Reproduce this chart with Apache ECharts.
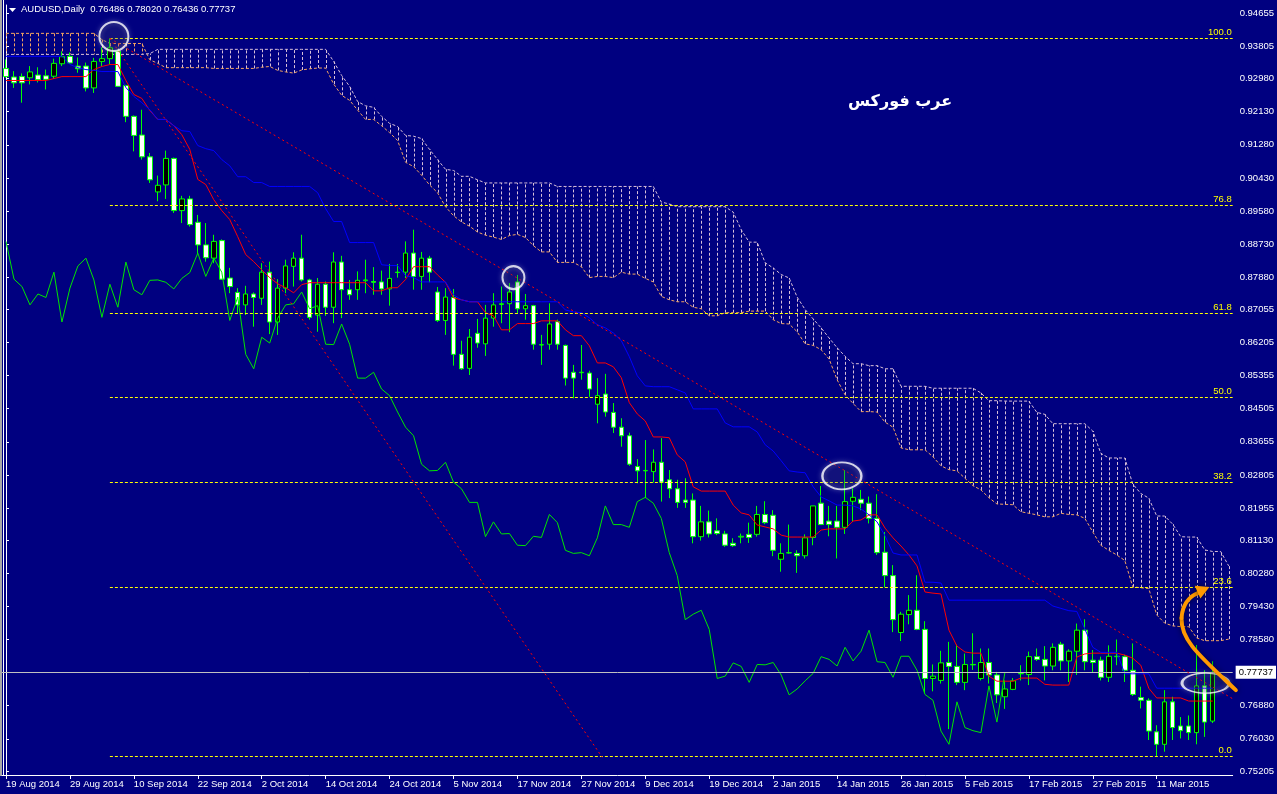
<!DOCTYPE html>
<html><head><meta charset="utf-8">
<script src="https://cdn.jsdelivr.net/npm/echarts@6/dist/echarts.min.js"></script>
<style>html,body{margin:0;padding:0;background:#000080;overflow:hidden}#c{width:1277px;height:794px}</style>
</head><body><div id="c"></div>
<script>
// ---------- categories (daily bars, incl. 2 future bars for the shifted cloud) ----------
const dates = ['19 Aug 2014','20 Aug 2014','21 Aug 2014','22 Aug 2014','25 Aug 2014','26 Aug 2014','27 Aug 2014','28 Aug 2014','29 Aug 2014',
'1 Sep 2014','2 Sep 2014','3 Sep 2014','4 Sep 2014','5 Sep 2014','8 Sep 2014','9 Sep 2014','10 Sep 2014','11 Sep 2014','12 Sep 2014','15 Sep 2014','16 Sep 2014','17 Sep 2014','18 Sep 2014','19 Sep 2014','22 Sep 2014','23 Sep 2014','24 Sep 2014','25 Sep 2014','26 Sep 2014','29 Sep 2014','30 Sep 2014',
'1 Oct 2014','2 Oct 2014','3 Oct 2014','6 Oct 2014','7 Oct 2014','8 Oct 2014','9 Oct 2014','10 Oct 2014','13 Oct 2014','14 Oct 2014','15 Oct 2014','16 Oct 2014','17 Oct 2014','20 Oct 2014','21 Oct 2014','22 Oct 2014','23 Oct 2014','24 Oct 2014','27 Oct 2014','28 Oct 2014','29 Oct 2014','30 Oct 2014','31 Oct 2014',
'3 Nov 2014','4 Nov 2014','5 Nov 2014','6 Nov 2014','7 Nov 2014','10 Nov 2014','11 Nov 2014','12 Nov 2014','13 Nov 2014','14 Nov 2014','17 Nov 2014','18 Nov 2014','19 Nov 2014','20 Nov 2014','21 Nov 2014','24 Nov 2014','25 Nov 2014','26 Nov 2014','27 Nov 2014','28 Nov 2014',
'1 Dec 2014','2 Dec 2014','3 Dec 2014','4 Dec 2014','5 Dec 2014','8 Dec 2014','9 Dec 2014','10 Dec 2014','11 Dec 2014','12 Dec 2014','15 Dec 2014','16 Dec 2014','17 Dec 2014','18 Dec 2014','19 Dec 2014','22 Dec 2014','23 Dec 2014','24 Dec 2014','26 Dec 2014','29 Dec 2014','30 Dec 2014','31 Dec 2014',
'2 Jan 2015','5 Jan 2015','6 Jan 2015','7 Jan 2015','8 Jan 2015','9 Jan 2015','12 Jan 2015','13 Jan 2015','14 Jan 2015','15 Jan 2015','16 Jan 2015','19 Jan 2015','20 Jan 2015','21 Jan 2015','22 Jan 2015','23 Jan 2015','26 Jan 2015','27 Jan 2015','28 Jan 2015','29 Jan 2015','30 Jan 2015',
'2 Feb 2015','3 Feb 2015','4 Feb 2015','5 Feb 2015','6 Feb 2015','9 Feb 2015','10 Feb 2015','11 Feb 2015','12 Feb 2015','13 Feb 2015','16 Feb 2015','17 Feb 2015','18 Feb 2015','19 Feb 2015','20 Feb 2015','23 Feb 2015','24 Feb 2015','25 Feb 2015','26 Feb 2015','27 Feb 2015',
'2 Mar 2015','3 Mar 2015','4 Mar 2015','5 Mar 2015','6 Mar 2015','9 Mar 2015','10 Mar 2015','11 Mar 2015','12 Mar 2015','13 Mar 2015','16 Mar 2015','17 Mar 2015','18 Mar 2015','19 Mar 2015','20 Mar 2015','23 Mar 2015','24 Mar 2015'];

// ---------- candles ----------
const opens = [0.9324,0.9302,0.9303,0.9300,0.9307,0.9305,0.9304,0.9336,0.9355,0.9330,
0.9330,0.9274,0.9342,0.9349,0.9368,0.9280,0.9201,0.9153,0.9097,0.9007,
0.9025,0.9093,0.8959,0.8989,0.8929,0.8871,0.8837,0.8882,0.8786,0.8749,
0.8717,0.8745,0.8734,0.8801,0.8673,0.8760,0.8816,0.8837,0.8781,0.8691,
0.8770,0.8711,0.8827,0.8756,0.8756,0.8779,0.8777,0.8776,0.8758,0.8801,
0.8801,0.8850,0.8790,0.8837,0.8750,0.8677,0.8736,0.8590,0.8554,0.8644,
0.8617,0.8683,0.8718,0.8720,0.8776,0.8707,0.8715,0.8614,0.8616,0.8674,
0.8613,0.8544,0.8543,0.8542,0.8462,0.8488,0.8441,0.8403,0.8381,0.8302,
0.8291,0.8289,0.8313,0.8268,0.8245,0.8216,0.8216,0.8122,0.8160,0.8137,
0.8129,0.8105,0.8121,0.8128,0.8128,0.8179,0.8177,0.8064,0.8080,0.8079,
0.8073,0.8120,0.8208,0.8162,0.8162,0.8146,0.8213,0.8218,0.8208,0.8169,
0.8082,0.8022,0.7876,0.7922,0.7933,0.7884,0.7758,0.7753,0.7799,0.7789,
0.7748,0.7794,0.7758,0.7799,0.7767,0.7711,0.7730,0.7770,0.7768,0.7814,
0.7807,0.7790,0.7846,0.7803,0.7828,0.7882,0.7805,0.7805,0.7761,0.7814,
0.7814,0.7779,0.7709,0.7702,0.7621,0.7589,0.7698,0.7636,0.7636,0.7619,
0.7739,0.76486];
const highs = [0.9347,0.9317,0.9311,0.9330,0.9327,0.9321,0.9349,0.9368,0.9365,0.9352,
0.9339,0.9351,0.9378,0.9401,0.9372,0.9282,0.9203,0.9218,0.9107,0.9049,
0.9113,0.9095,0.8997,0.8997,0.8948,0.8927,0.8897,0.8885,0.8812,0.8760,
0.8766,0.8749,0.8824,0.8828,0.8783,0.8833,0.8852,0.8897,0.8784,0.8786,
0.8777,0.8852,0.8843,0.8781,0.8803,0.8833,0.8814,0.8805,0.8822,0.8822,
0.8880,0.8910,0.8853,0.8843,0.8763,0.8760,0.8758,0.8625,0.8655,0.8681,
0.8717,0.8747,0.8764,0.8773,0.8794,0.8745,0.8717,0.8640,0.8721,0.8679,
0.8615,0.8563,0.8614,0.8548,0.8529,0.8540,0.8465,0.8426,0.8389,0.8321,
0.8370,0.8346,0.8375,0.8293,0.8268,0.8272,0.8233,0.8201,0.8189,0.8169,
0.8137,0.8118,0.8130,0.8158,0.8201,0.8213,0.8190,0.8105,0.8153,0.8087,
0.8128,0.8201,0.8252,0.8201,0.8201,0.8293,0.8246,0.8242,0.8225,0.8231,
0.8134,0.8049,0.7929,0.7972,0.8023,0.7905,0.7794,0.7829,0.7852,0.7845,
0.7822,0.7874,0.7835,0.7835,0.7775,0.7753,0.7759,0.7792,0.7827,0.7835,
0.7841,0.7848,0.7852,0.7833,0.7899,0.7910,0.7831,0.7814,0.7843,0.7858,
0.7819,0.7848,0.7737,0.7707,0.7638,0.7728,0.7711,0.7659,0.7663,0.7844,
0.7779,0.78020];
const lows = [0.9300,0.9274,0.9236,0.9283,0.9288,0.9270,0.9297,0.9330,0.9336,0.9313,
0.9265,0.9261,0.9330,0.9334,0.9278,0.9186,0.9111,0.9090,0.9030,0.8983,
0.8989,0.8953,0.8927,0.8918,0.8847,0.8828,0.8824,0.8781,0.8747,0.8696,
0.8691,0.8661,0.8717,0.8642,0.8640,0.8747,0.8764,0.8777,0.8679,0.8648,
0.8689,0.8670,0.8683,0.8730,0.8730,0.8747,0.8743,0.8743,0.8715,0.8787,
0.8786,0.8756,0.8756,0.8775,0.8673,0.8640,0.8561,0.8550,0.8537,0.8607,
0.8586,0.8661,0.8670,0.8647,0.8696,0.8679,0.8602,0.8563,0.8602,0.8602,
0.8510,0.8477,0.8525,0.8481,0.8413,0.8430,0.8388,0.8353,0.8304,0.8259,
0.8221,0.8261,0.8212,0.8221,0.8196,0.8196,0.8105,0.8112,0.8120,0.8126,
0.8096,0.8096,0.8105,0.8106,0.8122,0.8154,0.8072,0.8032,0.8078,0.8029,
0.8066,0.8100,0.8152,0.8123,0.8066,0.8129,0.8160,0.8190,0.8156,0.8075,
0.7992,0.7877,0.7854,0.7897,0.7882,0.7720,0.7725,0.7745,0.7628,0.7741,
0.7728,0.7780,0.7753,0.7745,0.7695,0.7680,0.7728,0.7753,0.7741,0.7803,
0.7753,0.7779,0.7779,0.7749,0.7767,0.7779,0.7772,0.7753,0.7749,0.7792,
0.7749,0.7713,0.7681,0.7600,0.7557,0.7570,0.7600,0.7604,0.7600,0.7589,
0.7608,0.76436];
const closes = [0.9303,0.9287,0.9287,0.9315,0.9295,0.9296,0.9337,0.9354,0.9338,0.9323,
0.9274,0.9342,0.9349,0.9377,0.9278,0.9201,0.9152,0.9097,0.9038,0.9024,
0.9093,0.8959,0.8989,0.8923,0.8871,0.8838,0.8880,0.8783,0.8764,0.8717,
0.8745,0.8736,0.8801,0.8673,0.8760,0.8817,0.8837,0.8781,0.8685,0.8770,
0.8711,0.8827,0.8756,0.8743,0.8780,0.8781,0.8775,0.8758,0.8785,0.8800,
0.8850,0.8790,0.8837,0.8801,0.8677,0.8737,0.8590,0.8553,0.8634,0.8619,
0.8683,0.8717,0.8720,0.8750,0.8707,0.8715,0.8616,0.8615,0.8668,0.8616,
0.8529,0.8529,0.8544,0.8501,0.8484,0.8442,0.8403,0.8381,0.8308,0.8291,
0.8292,0.8313,0.8262,0.8245,0.8210,0.8210,0.8122,0.8160,0.8129,0.8130,
0.8100,0.8099,0.8123,0.8120,0.8179,0.8158,0.8087,0.8079,0.8081,0.8073,
0.8119,0.8201,0.8153,0.8153,0.8146,0.8212,0.8223,0.8208,0.8169,0.8081,
0.8022,0.7909,0.7923,0.7933,0.7884,0.7758,0.7764,0.7798,0.7789,0.7748,
0.7794,0.7793,0.7799,0.7767,0.7716,0.7731,0.7752,0.7771,0.7814,0.7807,
0.7790,0.7838,0.7803,0.7828,0.7882,0.7801,0.7799,0.7761,0.7815,0.7815,
0.7779,0.7717,0.7702,0.7623,0.7589,0.7698,0.7632,0.7624,0.7619,0.7739,
0.7646,0.77737];

// ---------- Ichimoku lines ----------
const tenkan = [0.9293,0.9293,0.9293,0.9293,0.9293,0.9293,0.9298,0.9303,0.9303,0.9303,
0.9303,0.9321,0.9329,0.9334,0.9334,0.9293,0.9257,0.9247,0.9216,0.9193,
0.9193,0.9177,0.9154,0.9116,0.9039,0.9026,0.8987,0.8959,0.8936,0.8892,
0.8846,0.8828,0.8807,0.8787,0.8771,0.8761,0.8748,0.8769,0.8774,0.8774,
0.8774,0.8774,0.8774,0.8774,0.8774,0.8774,0.8753,0.8753,0.8761,0.8761,
0.8782,0.8815,0.8815,0.8815,0.8794,0.8775,0.8735,0.8730,0.8725,0.8725,
0.8697,0.8689,0.8653,0.8653,0.8669,0.8669,0.8669,0.8676,0.8676,0.8676,
0.8653,0.8638,0.8638,0.8612,0.8568,0.8568,0.8558,0.8530,0.8466,0.8437,
0.8419,0.8378,0.8378,0.8376,0.8332,0.8314,0.8250,0.8239,0.8239,0.8239,
0.8239,0.8203,0.8183,0.8178,0.8152,0.8147,0.8142,0.8126,0.8121,0.8121,
0.8121,0.8121,0.8139,0.8142,0.8142,0.8142,0.8162,0.8165,0.8178,0.8178,
0.8144,0.8119,0.8098,0.8075,0.8047,0.7980,0.7977,0.7975,0.7882,0.7841,
0.7826,0.7823,0.7823,0.7764,0.7751,0.7751,0.7751,0.7759,0.7759,0.7759,
0.7743,0.7741,0.7741,0.7741,0.7813,0.7821,0.7823,0.7823,0.7823,0.7823,
0.7818,0.7810,0.7792,0.7733,0.7708,0.7708,0.7708,0.7708,0.7700,0.7700,
0.7700,0.7700];
const kijun = [0.9355,0.9355,0.9355,0.9355,0.9355,0.9355,0.9355,0.9355,0.9334,0.9326,
0.9321,0.9319,0.9316,0.9316,0.9316,0.9275,0.9252,0.9236,0.9218,0.9193,
0.9193,0.9177,0.9164,0.9162,0.9126,0.9118,0.9113,0.9090,0.9074,0.9046,
0.9046,0.9031,0.9031,0.9021,0.9021,0.9021,0.9021,0.9021,0.9021,0.9005,
0.8964,0.8931,0.8931,0.8877,0.8877,0.8877,0.8877,0.8820,0.8818,0.8818,
0.8792,0.8787,0.8776,0.8776,0.8776,0.8776,0.8743,0.8730,0.8725,0.8725,
0.8725,0.8725,0.8725,0.8725,0.8725,0.8725,0.8725,0.8725,0.8725,0.8725,
0.8704,0.8699,0.8697,0.8684,0.8666,0.8658,0.8645,0.8625,0.8584,0.8535,
0.8509,0.8507,0.8507,0.8507,0.8499,0.8491,0.8450,0.8450,0.8450,0.8450,
0.8414,0.8404,0.8404,0.8404,0.8391,0.8358,0.8342,0.8317,0.8291,0.8288,
0.8286,0.8250,0.8224,0.8214,0.8203,0.8203,0.8201,0.8193,0.8178,0.8160,
0.8124,0.8080,0.8075,0.8075,0.8075,0.8005,0.8005,0.8003,0.7959,0.7959,
0.7959,0.7959,0.7959,0.7959,0.7959,0.7959,0.7959,0.7959,0.7959,0.7959,
0.7959,0.7944,0.7938,0.7932,0.7930,0.7885,0.7838,0.7825,0.7825,0.7825,
0.7770,0.7770,0.7770,0.7770,0.7733,0.7733,0.7733,0.7733,0.7733,0.7733,
0.7733,0.7733];
const senkouA = [0.9414,0.9414,0.9414,0.9414,0.9414,0.9414,0.9414,0.9414,0.9414,0.9414,
0.9414,0.9414,0.9398,0.9388,0.9388,0.9388,0.9388,0.9388,0.9346,0.9337,
0.9326,0.9326,0.9326,0.9326,0.9326,0.9326,0.9324,0.9324,0.9324,0.9324,
0.9324,0.9324,0.9327,0.9329,0.9319,0.9315,0.9312,0.9320,0.9323,0.9325,
0.9325,0.9284,0.9255,0.9242,0.9217,0.9193,0.9193,0.9177,0.9159,0.9139,
0.9083,0.9072,0.9050,0.9025,0.9005,0.8969,0.8946,0.8930,0.8919,0.8904,
0.8896,0.8891,0.8885,0.8895,0.8898,0.8890,0.8869,0.8853,0.8853,0.8826,
0.8826,0.8826,0.8815,0.8787,0.8790,0.8790,0.8787,0.8801,0.8796,0.8796,
0.8785,0.8776,0.8739,0.8730,0.8725,0.8725,0.8711,0.8707,0.8689,0.8689,
0.8697,0.8697,0.8697,0.8701,0.8701,0.8701,0.8679,0.8669,0.8668,0.8648,
0.8617,0.8613,0.8602,0.8578,0.8525,0.8486,0.8464,0.8443,0.8443,0.8442,
0.8416,0.8403,0.8350,0.8345,0.8345,0.8345,0.8327,0.8304,0.8294,0.8291,
0.8272,0.8253,0.8242,0.8222,0.8206,0.8205,0.8204,0.8186,0.8182,0.8178,
0.8173,0.8173,0.8182,0.8179,0.8178,0.8169,0.8134,0.8100,0.8087,0.8075,
0.8061,0.7993,0.7991,0.7989,0.7921,0.7900,0.7893,0.7891,0.7891,0.7862,
0.7855,0.7855,0.7855,0.7859];
const senkouB = [0.9360,0.9360,0.9360,0.9360,0.9360,0.9360,0.9360,0.9360,0.9360,0.9360,
0.9360,0.9360,0.9360,0.9360,0.9360,0.9360,0.9360,0.9360,0.9362,0.9373,
0.9373,0.9373,0.9373,0.9373,0.9373,0.9373,0.9373,0.9373,0.9373,0.9373,
0.9373,0.9373,0.9373,0.9373,0.9373,0.9373,0.9373,0.9373,0.9373,0.9373,
0.9373,0.9342,0.9306,0.9278,0.9239,0.9228,0.9224,0.9201,0.9183,0.9175,
0.9152,0.9150,0.9144,0.9116,0.9090,0.9065,0.9062,0.9047,0.9047,0.9038,
0.9030,0.9030,0.9030,0.9030,0.9030,0.9030,0.9030,0.9030,0.9030,0.9021,
0.9021,0.9021,0.9021,0.9021,0.9021,0.9021,0.9021,0.9021,0.9021,0.9021,
0.9021,0.9021,0.8981,0.8976,0.8969,0.8969,0.8969,0.8969,0.8969,0.8969,
0.8969,0.8955,0.8910,0.8878,0.8878,0.8825,0.8812,0.8795,0.8786,0.8737,
0.8705,0.8681,0.8658,0.8632,0.8607,0.8585,0.8566,0.8566,0.8561,0.8561,
0.8553,0.8553,0.8508,0.8508,0.8508,0.8508,0.8503,0.8503,0.8503,0.8503,
0.8503,0.8503,0.8491,0.8471,0.8471,0.8470,0.8470,0.8470,0.8470,0.8441,
0.8436,0.8412,0.8412,0.8412,0.8412,0.8412,0.8393,0.8336,0.8324,0.8324,
0.8324,0.8257,0.8233,0.8221,0.8175,0.8175,0.8154,0.8122,0.8121,0.8121,
0.8088,0.8084,0.8084,0.8047];

// ---------- axis ticks / levels / drawings ----------
const priceTicks = [0.94655,0.93805,0.92980,0.92130,0.91280,0.90430,0.89580,0.88730,0.87880,0.87055,0.86205,0.85355,
0.84505,0.83655,0.82805,0.81955,0.81130,0.80280,0.79430,0.78580,0.76880,0.76030,0.75205];
const fibLabels = ['100.0','76.8','61.8','50.0','38.2','23.6','0.0'];
const fibPrices = [0.9401,0.8974,0.8696,0.8480,0.8263,0.7994,0.7559];
const fibStart = 13;
const trendSteep = [[13,0.9401],[74.6,0.7556]];
const trendShallow = [[13,0.9401],[153.5,0.7706]];
const circleMarks = [[13.5,0.9406],[63.5,0.8787],[104.6,0.8278],[150.1,0.7746]];
const arrowPath = [[153.9,0.7728],[149.25,0.7818],[147.0,0.7857],[147.1,0.7913],[147.25,0.7959],[148.6,0.7975],[149.6,0.7980],[150.6,0.7993]];
const currentPrice = 0.77737;

const chikou = closes.slice(26);           // Chikou span = closes drawn 26 bars back
const candleData = opens.map((o,i)=>[o, closes[i], lows[i], highs[i]]);
const cloudData = senkouA.map((a,i)=>[i, a, senkouB[i]]);
const FONT = '"Liberation Sans", Arial, sans-serif';
const labelEvery = (i)=> i % 8 === 0 && i < 152;

const chart = echarts.init(document.getElementById('c'), null, {renderer:'canvas'});
const option = {
  backgroundColor:'#000080',
  animation:false,
  grid:{left:2, right:43, top:5, bottom:19, containLabel:false},
  xAxis:[
    {type:'category', data:dates, boundaryGap:true,
     axisLine:{show:true, lineStyle:{color:'#FFFFFF', width:1}},
     axisTick:{show:true, alignWithLabel:true, interval:labelEvery, length:4, lineStyle:{color:'#FFFFFF'}},
     axisLabel:{show:true, interval:labelEvery, color:'#FFFFFF', fontSize:9.5, fontFamily:FONT, align:'left', margin:4},
     splitLine:{show:false}},
    {type:'value', min:-0.5, max:153.5, show:false, splitLine:{show:false}}
  ],
  yAxis:{type:'value', position:'right', min:0.75102, max:0.94868,
    axisLine:{show:true, lineStyle:{color:'#FFFFFF'}},
    axisTick:{show:true, customValues:priceTicks, length:3, lineStyle:{color:'#FFFFFF'}},
    axisLabel:{show:true, customValues:priceTicks, formatter:(v)=>v.toFixed(5), color:'#FFFFFF', fontSize:9.5, fontFamily:FONT, margin:7},
    splitLine:{show:false}},
  graphic:[
    {type:'rect', shape:{x:0,y:0,width:2,height:776}, style:{fill:'#A8A8A8'}, silent:true},
    {type:'line', shape:{x1:3.5,y1:0,x2:3.5,y2:776}, style:{stroke:'#FFFFFF', lineWidth:1}, silent:true},
    {type:'polygon', shape:{points:[[9,8],[16,8],[12.5,12]]}, style:{fill:'#FFFFFF'}, silent:true},
    {type:'text', x:21, y:4, silent:true, style:{text:'AUDUSD,Daily  '+opens[151].toFixed(5)+' '+highs[151].toFixed(5)+' '+lows[151].toFixed(5)+' '+closes[151].toFixed(5), fill:'#FFFFFF', font:'9.5px '+FONT}},
    {type:'text', x:848, y:94, silent:true, style:{text:'عرب فوركس', fill:'#FFFFFF', font:'bold 16px "DejaVu Sans"'}}
  ],
  series:[
    {name:'cloudHatch', type:'custom', xAxisIndex:0, yAxisIndex:0, silent:true, z:1, clip:true,
     data:cloudData, encode:{x:0, y:[1,2]},
     renderItem:(params, api)=>{
       const i = api.value(0), a = api.value(1), b = api.value(2);
       const pa = api.coord([i,a]), pb = api.coord([i,b]);
       const x = Math.round(pa[0]) + 0.5;
       return {type:'line', shape:{x1:x, y1:pa[1], x2:x, y2:pb[1]},
         style:{stroke: a >= b ? '#F4A460' : '#D8BFD8', lineWidth:1, lineDash:[3,2]}};
     }},
    {name:'Senkou A', type:'line', xAxisIndex:0, data:senkouA, symbol:'none', silent:true, z:2,
     lineStyle:{color:'#F4A460', width:1, type:[3,2]}},
    {name:'Senkou B', type:'line', xAxisIndex:0, data:senkouB, symbol:'none', silent:true, z:2,
     lineStyle:{color:'#D8BFD8', width:1, type:[3,2]}},
    {name:'AUDUSD', type:'candlestick', xAxisIndex:0, data:candleData, barWidth:5, silent:true, z:3,
     itemStyle:{color:'#000000', color0:'#FFFFFF', borderColor:'#00FF00', borderColor0:'#00FF00', borderWidth:1}},
    {name:'Tenkan', type:'line', xAxisIndex:0, data:tenkan, symbol:'none', silent:true, z:4,
     lineStyle:{color:'#FF0000', width:1}},
    {name:'Kijun', type:'line', xAxisIndex:0, data:kijun, symbol:'none', silent:true, z:4,
     lineStyle:{color:'#0000FF', width:1},
     markLine:{symbol:'none', silent:true, animation:false, precision:5,
       data:[{yAxis:currentPrice}],
       lineStyle:{color:'#C0C0C0', type:'solid', width:1},
       label:{show:true, position:'end', formatter:currentPrice.toFixed(5), color:'#000000', backgroundColor:'#FFFFFF',
         padding:[2,3,1,3], fontSize:9.5, fontFamily:FONT, distance:3}}},
    {name:'Chikou', type:'line', xAxisIndex:0, data:chikou, symbol:'none', silent:true, z:4,
     lineStyle:{color:'#00E600', width:1}},
    {name:'fibo', type:'custom', xAxisIndex:1, yAxisIndex:0, silent:true, z:5, clip:false,
     data:fibPrices.map((p,k)=>[fibStart, p, k]), encode:{x:0, y:1},
     renderItem:(params, api)=>{
       const p = api.value(1), k = api.value(2);
       const a = api.coord([api.value(0), p]);
       const xr = params.coordSys.x + params.coordSys.width;
       const y = Math.round(a[1]) + 0.5;
       return {type:'group', children:[
         {type:'line', shape:{x1:a[0], y1:y, x2:xr, y2:y}, style:{stroke:'#FFFF00', lineWidth:1, lineDash:[3,2]}},
         {type:'text', style:{text:fibLabels[k], x:xr-1, y:y-1, align:'right', verticalAlign:'bottom', fill:'#FFFF00', font:'9.5px '+FONT}}
       ]};
     }},
    {name:'trendSteep', type:'line', xAxisIndex:1, data:trendSteep, symbol:'none', silent:true, z:5,
     lineStyle:{color:'#FF0000', width:1, type:[2,3]}},
    {name:'trendShallow', type:'line', xAxisIndex:1, data:trendShallow, symbol:'none', silent:true, z:5,
     lineStyle:{color:'#FF0000', width:1, type:[2,3]}},
    {name:'circles', type:'scatter', xAxisIndex:1, yAxisIndex:0, silent:true, z:7,
     data:[
       {value:circleMarks[0], symbolSize:[29,29]},
       {value:circleMarks[1], symbolSize:[22,23]},
       {value:circleMarks[2], symbolSize:[39,27]},
       {value:circleMarks[3], symbolSize:[47,20]}],
     symbol:'circle',
     itemStyle:{color:'rgba(0,0,60,0.25)', borderColor:'#FFFFFF', borderWidth:2, shadowBlur:5, shadowColor:'rgba(255,255,255,0.45)'}},
    {name:'arrow', type:'custom', xAxisIndex:1, yAxisIndex:0, silent:true, z:8, clip:false,
     data:[arrowPath[0]], encode:{x:0, y:1},
     renderItem:(params, api)=>{
       const P = arrowPath.map(p=>api.coord(p));
       const st = {stroke:'#FF9900', lineWidth:4, fill:null, lineCap:'round', shadowBlur:6, shadowColor:'rgba(0,0,0,0.6)'};
       const tip = P[7], from = P[5];
       let dx = tip[0]-from[0], dy = tip[1]-from[1];
       const len = Math.sqrt(dx*dx+dy*dy); dx/=len; dy/=len;
       const bx = tip[0]-dx*13, by = tip[1]-dy*13;
       return {type:'group', children:[
         {type:'bezierCurve', shape:{x1:P[0][0],y1:P[0][1],cpx1:P[1][0],cpy1:P[1][1],cpx2:P[2][0],cpy2:P[2][1],x2:P[3][0],y2:P[3][1]}, style:st},
         {type:'bezierCurve', shape:{x1:P[3][0],y1:P[3][1],cpx1:P[4][0],cpy1:P[4][1],cpx2:P[5][0],cpy2:P[5][1],x2:P[6][0],y2:P[6][1]}, style:st},
         {type:'polygon', shape:{points:[[tip[0],tip[1]],[bx-dy*7,by+dx*7],[bx+dy*7,by-dx*7]]}, style:{fill:'#FF9900', shadowBlur:6, shadowColor:'rgba(0,0,0,0.6)'}}
       ]};
     }}
  ]
};
chart.setOption(option);
</script>
</body></html>
